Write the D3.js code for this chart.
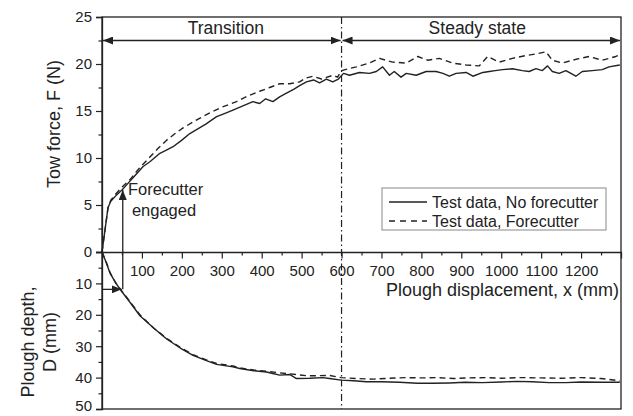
<!DOCTYPE html>
<html>
<head>
<meta charset="utf-8">
<script src="https://cdn.jsdelivr.net/npm/d3@7"></script>
<style>
  body { margin: 0; background: #fff; }
  svg text { font-family: "Liberation Sans", Arial, sans-serif; fill: #222; }
</style>
</head>
<body>
<div id="chart"></div>
<script>
// tow force, no forecutter (solid)
const forceNoX = [0, 8, 15, 22, 35, 50, 65, 80, 103, 120, 145, 160, 178, 200, 220, 240, 260, 287, 305, 328, 350, 378, 395, 410, 428, 445, 462, 480, 495, 512, 530, 545, 562, 578, 592,
  605, 620, 645, 670, 687, 703, 720, 732, 749, 762, 787, 812, 837, 854, 870, 887, 912, 929, 954, 970, 985, 1003, 1028, 1053, 1070, 1087, 1103, 1116, 1128, 1145, 1162, 1187, 1203, 1228, 1253, 1270, 1297];
const forceNoF = [0, 2.5, 4.7, 5.4, 6.0, 6.6, 7.3, 8.0, 9.1, 9.6, 10.5, 10.8, 11.2, 11.9, 12.6, 13.1, 13.6, 14.4, 14.7, 15.1, 15.5, 16.0, 15.8, 16.3, 16.0, 16.5, 16.9, 17.3, 17.7, 18.1, 18.3, 18.0, 18.4, 18.1, 18.4,
  19.0, 18.8, 19.1, 19.0, 19.2, 19.7, 18.8, 19.2, 18.6, 19.0, 18.8, 19.2, 19.2, 19.0, 18.7, 19.0, 19.1, 18.7, 19.1, 19.2, 19.3, 19.4, 19.5, 19.3, 19.2, 19.5, 19.3, 19.8, 19.2, 19.0, 19.3, 18.7, 19.2, 19.3, 19.4, 19.7, 19.9];

// tow force, forecutter (dashed)
const forceFcX = [0, 8, 15, 22, 35, 50, 70, 95, 120, 140, 162, 183, 203, 235, 270, 300, 337, 365, 395, 420, 445, 470, 495, 510, 528, 550, 578, 590, 600,
  637, 670, 695, 728, 762, 791, 816, 845, 878, 912, 945, 966, 995, 1028, 1062, 1091, 1112, 1128, 1153, 1187, 1220, 1253, 1287, 1297];
const forceFcF = [0, 2.5, 4.7, 5.5, 6.2, 6.9, 7.7, 9.0, 10.1, 11.0, 11.9, 12.6, 13.2, 14.0, 14.8, 15.4, 16.0, 16.6, 17.1, 17.5, 17.9, 17.9, 18.1, 18.5, 18.7, 18.4, 18.8, 18.6, 19.3,
  19.7, 20.1, 20.6, 20.2, 20.1, 20.8, 20.4, 20.6, 20.1, 19.9, 19.8, 20.8, 20.2, 20.6, 20.9, 21.1, 21.3, 20.4, 20.1, 20.5, 20.8, 20.4, 20.8, 21.0];

// plough depth, no forecutter (solid)
const depthNoX = [0, 10, 20, 35, 49, 70, 95, 130, 162, 195, 228, 260, 287, 328, 345, 380, 412, 428, 445, 470, 487, 520, 553, 570, 599, 630, 662, 700, 745, 790, 828, 870, 910, 953, 1000, 1040, 1078, 1120, 1162, 1200, 1250, 1297];
const depthNoD = [0, 3.2, 6.7, 10.0, 12.5, 16.0, 20.3, 24.3, 27.7, 30.5, 32.9, 34.5, 35.8, 36.6, 37.1, 37.8, 38.2, 38.7, 39.2, 39.0, 40.3, 40.2, 40.0, 40.3, 40.8, 41.0, 41.3, 41.3, 41.5, 41.8, 41.8, 41.7, 41.5, 41.6, 41.4, 41.2, 41.3, 41.6, 41.6, 41.4, 41.5, 41.5];

// plough depth, forecutter (dashed)
const depthFcX = [0, 10, 20, 35, 49, 70, 95, 130, 162, 195, 228, 260, 287, 328, 345, 380, 412, 440, 470, 512, 540, 570, 599, 640, 680, 720, 760, 800, 840, 880, 920, 960, 1000, 1050, 1100, 1150, 1200, 1250, 1297];
const depthFcD = [0, 3.0, 6.5, 10.0, 12.3, 15.8, 20.0, 24.3, 27.5, 30.3, 32.7, 34.3, 35.5, 36.3, 36.9, 37.6, 38.0, 38.4, 38.8, 39.4, 39.4, 39.3, 40.0, 40.3, 40.5, 40.2, 40.0, 40.1, 40.0, 40.3, 40.1, 40.0, 40.2, 40.0, 40.1, 40.2, 40.0, 40.3, 41.0];

const xTicks = [100, 200, 300, 400, 500, 600, 700, 800, 900, 1000, 1100, 1200];
const forceTicks = [0, 5, 10, 15, 20, 25];
const depthTicks = [10, 20, 30, 40, 50];
const legendLabels = ["Test data, No forecutter", "Test data, Forecutter"];

const W = 633, H = 416;
const margin = ({ top: 17, right: 12, bottom: 7, left: 102 });
const zeroY = 252;

const svg = d3.select("#chart").append("svg")
    .attr("width", W)
    .attr("height", H);

const x = d3.scaleLinear().domain([0, 1300]).range([margin.left, W - margin.right]);
const yF = d3.scaleLinear().domain([0, 25]).range([zeroY, margin.top]);
const yD = d3.scaleLinear().domain([0, 50]).range([zeroY, H - margin.bottom]);

const ink = "#222";
const fmt = d3.format("d");

// arrow heads
const defs = svg.append("defs");
defs.append("marker")
    .attr("id", "head")
    .attr("viewBox", "0 0 10 8")
    .attr("refX", 10).attr("refY", 4)
    .attr("markerWidth", 10).attr("markerHeight", 8)
    .attr("markerUnits", "userSpaceOnUse")
    .attr("orient", "auto-start-reverse")
    .append("path")
    .attr("d", "M0,0L10,4L0,8Z")
    .attr("fill", ink);

// frame
svg.append("rect")
    .attr("x", x(0)).attr("y", yF(25))
    .attr("width", x(1300) - x(0))
    .attr("height", yD(50) - yF(25))
    .attr("fill", "none")
    .attr("stroke", ink)
    .attr("stroke-width", 1.3);

// force axis (left, top half)
svg.append("g")
    .attr("transform", "translate(" + x(0) + ",0)")
    .call(d3.axisLeft(yF).tickValues(forceTicks).tickSize(6).tickPadding(4).tickFormat(fmt))
svg.append("g")
    .attr("transform", "translate(" + x(0) + ",0)")
    .call(d3.axisLeft(yF).tickValues(d3.range(2.5, 25, 5)).tickSize(3.5).tickFormat(""))
    .call(g => g.select(".domain").remove());

// depth axis (left, bottom half)
svg.append("g")
    .attr("transform", "translate(" + x(0) + ",0)")
    .call(d3.axisLeft(yD).tickValues(depthTicks).tickSize(6).tickPadding(4).tickFormat(fmt))
    .call(g => g.selectAll(".tick text").filter(d => d === 50).attr("dy", "0.1em"));
svg.append("g")
    .attr("transform", "translate(" + x(0) + ",0)")
    .call(d3.axisLeft(yD).tickValues(d3.range(5, 50, 10)).tickSize(3.5).tickFormat(""))
    .call(g => g.select(".domain").remove());

// x axis on the zero line, ticks pointing down
svg.append("g")
    .attr("transform", "translate(0," + zeroY + ")")
    .call(d3.axisBottom(x).tickValues(xTicks).tickSize(6.5).tickPadding(7).tickFormat(fmt))
svg.append("g")
    .attr("transform", "translate(0," + zeroY + ")")
    .call(d3.axisBottom(x).tickValues(d3.range(50, 1300, 100)).tickSize(3.5).tickFormat(""))
    .call(g => g.select(".domain").remove());

svg.selectAll(".domain").attr("stroke", ink).attr("stroke-width", 1.3);
svg.selectAll(".tick line").attr("stroke", ink).attr("stroke-width", 1.2);
svg.selectAll(".tick text")
    .attr("font-size", 15)
    .attr("font-family", "'Liberation Sans', Arial, sans-serif")
    .attr("fill", ink);

// axis titles
svg.append("text")
    .attr("transform", "translate(60,124) rotate(-90)")
    .attr("text-anchor", "middle")
    .attr("font-size", 18)
    .text("Tow force, F (N)");

svg.append("text")
    .attr("transform", "translate(34,342) rotate(-90)")
    .attr("text-anchor", "middle")
    .attr("font-size", 18)
    .text("Plough depth,");
svg.append("text")
    .attr("transform", "translate(56,342) rotate(-90)")
    .attr("text-anchor", "middle")
    .attr("font-size", 18)
    .text("D (mm)");

svg.append("text")
    .attr("x", 619).attr("y", 296)
    .attr("text-anchor", "end")
    .attr("font-size", 18)
    .text("Plough displacement, x (mm)");

// data lines
const lineF = d3.line().x(d => x(d[0])).y(d => yF(d[1]));
const lineD = d3.line().x(d => x(d[0])).y(d => yD(d[1]));

const series = [
    { pts: d3.zip(forceNoX, forceNoF), gen: lineF, dash: null },
    { pts: d3.zip(forceFcX, forceFcF), gen: lineF, dash: "6,4" },
    { pts: d3.zip(depthNoX, depthNoD), gen: lineD, dash: null },
    { pts: d3.zip(depthFcX, depthFcD), gen: lineD, dash: "6,4" }
];

svg.selectAll("path.series")
    .data(series)
    .join("path")
    .attr("class", "series")
    .attr("d", d => d.gen(d.pts))
    .attr("fill", "none")
    .attr("stroke", ink)
    .attr("stroke-width", 1.4)
    .attr("stroke-linejoin", "round")
    .attr("stroke-dasharray", d => d.dash);

// transition / steady state divider
svg.append("line")
    .attr("x1", x(600)).attr("x2", x(600))
    .attr("y1", yF(25)).attr("y2", yD(50))
    .attr("stroke", ink)
    .attr("stroke-width", 1.2)
    .attr("stroke-dasharray", "7,3,1.5,3");

// region arrows
const arrowY = yF(22.5);
[[0, 600], [600, 1300]].forEach(r => {
    svg.append("line")
        .attr("x1", x(r[0]) + 1).attr("x2", x(r[1]) - 1)
        .attr("y1", arrowY).attr("y2", arrowY)
        .attr("stroke", ink)
        .attr("stroke-width", 1.3)
        .attr("marker-start", "url(#head)")
        .attr("marker-end", "url(#head)");
});

svg.append("text")
    .attr("x", x(300) + 4).attr("y", 34)
    .attr("text-anchor", "middle")
    .attr("font-size", 17.5)
    .text("Transition");
svg.append("text")
    .attr("x", x(950) - 4).attr("y", 34)
    .attr("text-anchor", "middle")
    .attr("font-size", 17.5)
    .text("Steady state");

// forecutter engaged annotation
const engageX = 52;
svg.append("line")
    .attr("x1", x(engageX)).attr("x2", x(engageX))
    .attr("y1", yD(11.9)).attr("y2", yF(6.6))
    .attr("stroke", ink)
    .attr("stroke-width", 1.3)
    .attr("marker-end", "url(#head)");
svg.append("line")
    .attr("x1", x(0)).attr("x2", x(engageX) - 1)
    .attr("y1", yD(11.9)).attr("y2", yD(11.9))
    .attr("stroke", ink)
    .attr("stroke-width", 1.3)
    .attr("marker-end", "url(#head)");

svg.append("text")
    .attr("x", 128).attr("y", 195)
    .attr("font-size", 16.5)
    .text("Forecutter");
svg.append("text")
    .attr("x", 164).attr("y", 216)
    .attr("text-anchor", "middle")
    .attr("font-size", 16.5)
    .text("engaged");

// legend
const legend = svg.append("g").attr("transform", "translate(382,188)");
legend.append("rect")
    .attr("width", 224).attr("height", 42)
    .attr("fill", "#fff")
    .attr("stroke", "#888")
    .attr("stroke-width", 1);

legend.selectAll("g.item")
    .data(legendLabels)
    .join("g")
    .attr("class", "item")
    .attr("transform", (d, i) => "translate(0," + (14 + i * 19) + ")")
    .each(function(d, i) {
        const g = d3.select(this);
        g.append("line")
            .attr("x1", 7).attr("x2", 45)
            .attr("stroke", ink)
            .attr("stroke-width", 1.4)
            .attr("stroke-dasharray", i === 1 ? "6,5" : null);
        g.append("text")
            .attr("x", 50).attr("y", 6)
            .attr("font-size", 16)
            .text(d);
    });
</script>
</body>
</html>
